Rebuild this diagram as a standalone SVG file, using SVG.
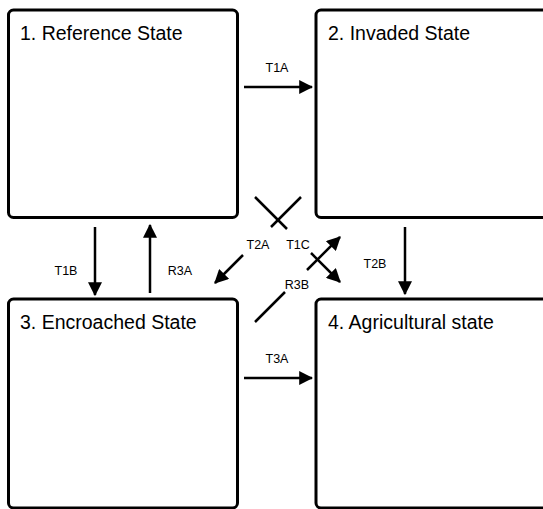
<svg xmlns="http://www.w3.org/2000/svg" width="543" height="509" viewBox="0 0 543 509">
<style>
.box{fill:#fff;stroke:#000;stroke-width:3}
.title{font-family:"Liberation Sans",Arial,sans-serif;font-size:19.5px;fill:#000}
.lbl{font-family:"Liberation Sans",Arial,sans-serif;font-size:12.5px;fill:#000;text-anchor:middle}
.conn{fill:none;stroke:#000;stroke-width:2.5;marker-end:url(#ah)}
</style>
<defs>
<marker id="ah" markerUnits="userSpaceOnUse" markerWidth="14" markerHeight="14" viewBox="0 0 12 12" refX="11" refY="6" orient="auto">
<path d="M0,0 L12,6 L0,12 Z" fill="#000"/>
</marker>
</defs>
<rect width="543" height="509" fill="#fff"/>
<g id="node1"><rect class="box" x="8.5" y="10" width="229" height="207.5" rx="5"/><text class="title" x="20" y="40">1. Reference State</text></g>
<g id="node2"><rect class="box" x="316" y="10" width="240" height="207.5" rx="5"/><text class="title" x="328" y="40">2. Invaded State</text></g>
<g id="node3"><rect class="box" x="8.5" y="299" width="229" height="209" rx="5"/><text class="title" x="20" y="329">3. Encroached State</text></g>
<g id="node4"><rect class="box" x="316" y="299" width="240" height="209" rx="5"/><text class="title" x="328" y="329">4. Agricultural state</text></g>
<g id="connectors">
<path class="conn" d="M244,87 L312,87"/>
<path class="conn" d="M244,378 L312,378"/>
<path class="conn" d="M95,227 L95,295"/>
<path class="conn" d="M150,293 L150,225"/>
<path class="conn" d="M405,227 L405,294"/>
<path class="conn" d="M301,197 L271,227 M243,255 L215,283"/>
<path class="conn" d="M255,197 L287,229 M311,253 L340,282"/>
<path class="conn" d="M255,322 L285,292 M307,270 L340,237"/>
<text class="lbl" x="277" y="72">T1A</text>
<text class="lbl" x="277" y="363">T3A</text>
<text class="lbl" x="66" y="275">T1B</text>
<text class="lbl" x="180" y="275">R3A</text>
<text class="lbl" x="375" y="268">T2B</text>
<text class="lbl" x="258" y="249">T2A</text>
<text class="lbl" x="298" y="249">T1C</text>
<text class="lbl" x="297" y="289">R3B</text>
</g>
</svg>
